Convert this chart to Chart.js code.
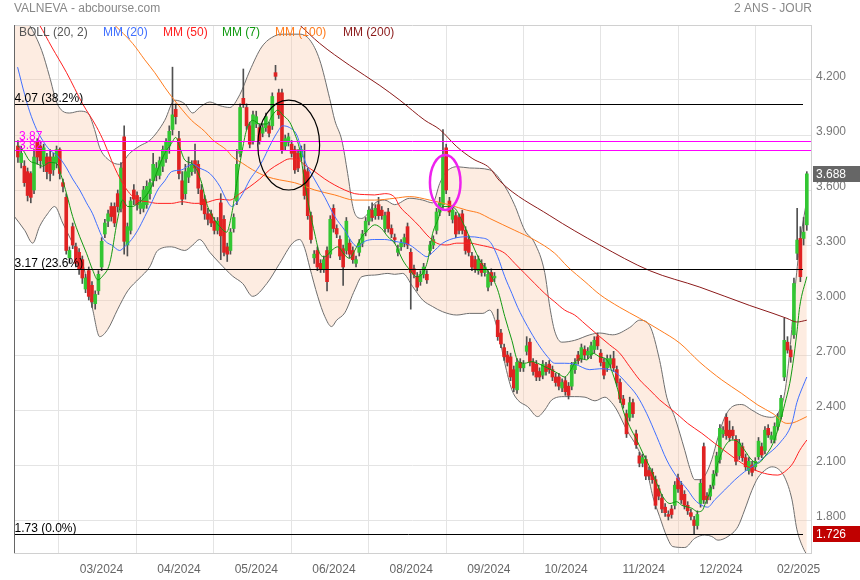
<!DOCTYPE html>
<html>
<head>
<meta charset="utf-8">
<title>VALNEVA - abcbourse.com</title>
<script src="https://cdn.jsdelivr.net/npm/chart.js@4.4.1/dist/chart.umd.min.js"></script>
<style>
  html, body { margin: 0; padding: 0; background: #fff; }
  canvas { display: block; }
</style>
</head>
<body>
<canvas id="chart" width="860" height="580"></canvas>
<script>
// daily candles, index 0 = first session shown
const opens = [3.84,3.75,3.73,3.70,3.69,3.60,3.86,3.84,3.74,3.78,3.78,3.71,3.75,3.82,3.64,3.56,3.23,3.40,3.29,3.26,
  3.22,3.06,3.16,3.08,2.98,3.05,3.18,3.36,3.43,3.51,3.51,3.58,3.50,3.89,3.30,3.38,3.60,3.57,3.50,3.50,
  3.52,3.58,3.65,3.68,3.68,3.73,3.77,3.84,3.93,4.04,3.88,3.65,3.58,3.67,3.70,3.76,3.74,3.60,3.55,3.47,
  3.47,3.43,3.38,3.53,3.44,3.29,3.27,3.39,3.54,3.80,4.10,4.05,3.95,3.87,3.96,3.94,3.91,3.94,3.95,3.95,
  4.24,4.13,4.13,3.84,3.86,3.85,3.82,3.80,3.78,3.71,3.70,3.46,3.23,3.27,3.20,3.17,3.27,3.25,3.50,3.39,
  3.33,3.28,3.27,3.31,3.27,3.20,3.26,3.31,3.37,3.43,3.49,3.46,3.52,3.49,3.39,3.48,3.39,3.34,3.26,
  3.29,3.31,3.40,3.26,3.17,3.13,3.10,3.14,3.14,3.27,3.30,3.38,3.48,3.52,3.83,3.54,3.44,3.46,
  3.45,3.47,3.38,3.33,3.24,3.22,3.16,3.20,3.15,3.07,3.15,3.12,2.89,2.82,2.74,2.70,2.69,2.62,2.51,2.66,
  2.63,2.72,2.77,2.66,2.65,2.61,2.59,2.64,2.65,2.62,2.58,2.58,2.52,2.56,2.53,2.53,2.62,2.70,2.68,2.73,2.70,2.70,2.73,
  2.80,2.71,2.66,2.63,2.65,2.68,2.62,2.55,2.46,2.38,2.36,2.44,2.27,2.15,2.11,2.13,2.07,2.06,2.02,1.97,
  1.92,1.87,1.83,1.86,1.88,2.03,1.99,1.94,1.88,1.84,1.80,1.77,1.89,2.20,1.93,1.93,1.99,2.06,2.13,2.27,
  2.36,2.29,2.29,2.24,2.15,2.20,2.14,2.07,2.10,2.09,2.145,2.20,2.18,2.30,2.24,2.236,2.31,2.364,2.58,2.77,
  2.727,2.81,3.255,3.336,3.336,3.41];
const highs = [3.87,3.84,3.76,3.72,3.70,3.82,3.88,3.86,3.85,3.80,3.82,3.80,3.84,3.83,3.66,3.58,3.29,3.42,3.31,3.28,
  3.24,3.14,3.18,3.10,3.05,3.16,3.34,3.44,3.49,3.53,3.53,3.60,3.75,3.95,3.42,3.56,3.63,3.59,3.56,3.62,
  3.65,3.66,3.80,3.75,3.78,3.84,3.88,3.95,4.27,4.07,3.92,3.70,3.74,3.78,3.76,3.85,3.76,3.63,3.57,3.50,
  3.49,3.45,3.45,3.58,3.46,3.31,3.39,3.47,3.82,4.07,4.26,4.07,3.97,4.03,4.03,3.96,3.96,4.02,3.97,4.13,
  4.28,4.15,4.15,3.90,3.91,3.87,3.84,3.82,3.84,3.85,3.72,3.48,3.27,3.29,3.22,3.24,3.29,3.46,3.52,3.41,
  3.35,3.30,3.45,3.33,3.29,3.24,3.33,3.38,3.45,3.51,3.53,3.52,3.56,3.51,3.48,3.50,3.41,3.36,3.30,
  3.33,3.36,3.42,3.28,3.19,3.15,3.16,3.20,3.16,3.32,3.35,3.50,3.56,3.93,3.85,3.56,3.51,3.48,
  3.47,3.49,3.40,3.35,3.26,3.24,3.24,3.22,3.20,3.16,3.17,3.15,2.95,2.84,2.76,2.72,2.71,2.64,2.68,2.68,
  2.67,2.80,2.79,2.68,2.67,2.63,2.67,2.66,2.67,2.64,2.60,2.60,2.57,2.58,2.55,2.66,2.68,2.72,2.76,2.75,2.74,2.77,2.80,
  2.82,2.73,2.68,2.70,2.70,2.72,2.64,2.57,2.48,2.40,2.47,2.46,2.29,2.17,2.16,2.15,2.09,2.08,2.04,1.99,
  1.94,1.89,1.85,1.88,2.01,2.05,2.01,1.96,1.90,1.86,1.82,1.85,2.02,2.22,1.95,1.99,2.07,2.17,2.32,2.31,
  2.38,2.34,2.31,2.26,2.24,2.22,2.16,2.14,2.12,2.14,2.25,2.22,2.31,2.32,2.28,2.33,2.38,2.48,2.90,2.80,
  2.75,3.12,3.50,3.40,3.45,3.70];
const lows = [3.75,3.72,3.62,3.54,3.53,3.58,3.74,3.72,3.70,3.66,3.65,3.68,3.72,3.66,3.59,3.25,3.20,3.28,3.18,3.14,
  3.09,3.04,3.00,2.96,2.95,3.03,3.16,3.34,3.40,3.43,3.40,3.48,3.48,3.25,3.24,3.36,3.52,3.49,3.47,3.48,
  3.50,3.55,3.62,3.65,3.66,3.70,3.75,3.80,3.90,3.96,3.66,3.52,3.55,3.64,3.68,3.69,3.58,3.49,3.44,3.41,
  3.40,3.36,3.36,3.22,3.24,3.21,3.25,3.37,3.52,3.78,4.05,3.93,3.83,3.85,3.94,3.85,3.89,3.92,3.89,3.93,
  4.20,3.99,3.80,3.82,3.84,3.78,3.69,3.70,3.76,3.55,3.44,3.31,3.20,3.16,3.15,3.15,3.05,3.23,3.37,3.34,
  3.22,3.08,3.25,3.23,3.20,3.18,3.24,3.29,3.35,3.41,3.43,3.44,3.44,3.44,3.37,3.37,3.34,3.31,3.24,
  3.27,3.29,3.28,2.95,3.12,3.05,3.08,3.12,3.09,3.25,3.28,3.36,3.46,3.50,3.58,3.46,3.42,3.34,
  3.36,3.36,3.25,3.24,3.16,3.15,3.14,3.13,3.13,3.05,3.08,3.10,2.78,2.74,2.67,2.64,2.56,2.50,2.49,2.61,
  2.61,2.70,2.64,2.59,2.56,2.56,2.57,2.59,2.60,2.56,2.53,2.51,2.50,2.48,2.46,2.51,2.60,2.65,2.66,2.68,2.68,2.68,2.71,
  2.73,2.64,2.57,2.61,2.63,2.61,2.53,2.44,2.41,2.25,2.34,2.36,2.19,2.09,2.09,2.02,2.02,2.00,1.86,1.91,
  1.84,1.82,1.80,1.81,1.86,1.95,1.89,1.86,1.83,1.80,1.726,1.75,1.87,1.89,1.89,1.91,1.97,2.04,2.11,2.25,
  2.24,2.23,2.24,2.10,2.13,2.12,2.07,2.05,2.04,2.07,2.13,2.14,2.16,2.25,2.22,2.22,2.29,2.35,2.56,2.71,
  2.66,2.79,3.22,3.10,3.30,3.38];
const closes = [3.78,3.80,3.64,3.57,3.56,3.78,3.78,3.76,3.83,3.70,3.69,3.78,3.82,3.69,3.62,3.27,3.27,3.30,3.20,3.17,
  3.12,3.12,3.02,2.99,3.03,3.14,3.32,3.42,3.47,3.455,3.42,3.51,3.72,3.32,3.40,3.54,3.55,3.52,3.53,3.60,
  3.62,3.64,3.74,3.72,3.76,3.82,3.86,3.92,4.01,4.00,3.69,3.55,3.70,3.72,3.74,3.72,3.61,3.52,3.47,3.44,
  3.42,3.38,3.43,3.35,3.26,3.25,3.37,3.45,3.74,4.05,4.07,3.95,3.85,4.01,4.00,3.87,3.94,4.00,3.91,4.11,
  4.22,4.01,3.82,3.88,3.89,3.80,3.71,3.72,3.82,3.57,3.46,3.33,3.25,3.18,3.17,3.22,3.10,3.44,3.39,3.36,
  3.24,3.18,3.43,3.25,3.22,3.22,3.31,3.36,3.43,3.49,3.45,3.50,3.46,3.46,3.46,3.39,3.36,3.33,3.28,
  3.31,3.34,3.30,3.15,3.14,3.07,3.14,3.18,3.11,3.30,3.33,3.48,3.53,3.78,3.60,3.48,3.49,3.36,
  3.38,3.38,3.27,3.26,3.18,3.17,3.22,3.15,3.18,3.14,3.10,3.13,2.80,2.76,2.69,2.66,2.58,2.52,2.66,2.63,
  2.65,2.75,2.66,2.61,2.58,2.58,2.65,2.61,2.62,2.58,2.55,2.53,2.55,2.50,2.48,2.645,2.66,2.67,2.74,2.70,2.72,2.75,2.78,
  2.75,2.66,2.59,2.68,2.68,2.63,2.55,2.46,2.43,2.27,2.44,2.38,2.21,2.11,2.14,2.04,2.04,2.02,1.88,1.93,
  1.86,1.84,1.82,1.83,1.99,1.97,1.91,1.88,1.85,1.82,1.77,1.83,2.00,1.91,1.91,1.97,2.05,2.15,2.30,2.29,
  2.26,2.25,2.26,2.12,2.22,2.14,2.09,2.12,2.06,2.12,2.23,2.155,2.29,2.264,2.26,2.31,2.364,2.464,2.78,2.727,
  2.69,3.09,3.327,3.127,3.37,3.688];

// indicator curves: [session index, value]
const mm7 = [[-0.1,3.84],[1.5,3.82],[3.6,3.76],[5.8,3.745],[7.7,3.73],[9.8,3.75],[12.0,3.745],[13.6,3.67],[15.1,3.58],[17.0,3.455],
  [19.2,3.345],[21.3,3.255],[23.2,3.164],[24.8,3.11],[26.3,3.13],[28.5,3.20],[30.9,3.436],[32.5,3.545],[34.1,3.51],[35.6,3.51],
  [37.2,3.527],[39.4,3.56],[41.5,3.62],[43.4,3.71],[45.6,3.80],[47.7,3.855],[49.0,3.887],[50.2,3.836],[51.8,3.764],[54.0,3.745],
  [55.5,3.71],[57.1,3.636],[58.6,3.527],[60.5,3.455],[62.7,3.40],[64.8,3.37],[66.4,3.47],[67.9,3.636],[69.5,3.80],[71.0,3.927],
  [72.9,3.98],[75.1,3.96],[77.3,3.96],[79.1,4.01],[80.7,4.036],[82.2,4.01],[84.4,3.97],[85.9,3.91],[87.5,3.82],[89.1,3.636],
  [90.6,3.49],[92.2,3.36],[93.7,3.255],[95.3,3.236],[97.4,3.27],[99.3,3.29],[101.5,3.245],[103.0,3.227],[104.6,3.27],[106.8,3.345],
  [108.6,3.38],[110.8,3.41],[112.9,3.39],[114.9,3.345],[117.0,3.31],[119.5,3.218],[121.7,3.164],[123.9,3.127],[125.7,3.145],[127.3,3.218],
  [128.8,3.364],[130.4,3.436],[131.9,3.51],[133.5,3.51],[135.7,3.50],[137.8,3.436],[139.7,3.364],[141.9,3.273],[144.0,3.20],[146.5,3.145],
  [149.0,3.055],[151.2,2.91],[153.4,2.78],[155.2,2.67],[157.4,2.655],[159.6,2.664],[161.4,2.655],[163.6,2.636],[165.8,2.618],[167.7,2.60],
  [169.8,2.58],[171.4,2.61],[172.9,2.655],[174.5,2.68],[176.7,2.673],[178.5,2.71],[180.7,2.69],[182.9,2.673],[184.7,2.60],[186.3,2.51],
  [187.9,2.40],[190.0,2.31],[192.2,2.236],[194.1,2.164],[196.2,2.09],[198.4,2.0],[200.3,1.927],[202.5,1.89],[204.6,1.90],[206.2,1.88],
  [209.3,1.864],[211.1,1.845],[212.4,1.85],[213.9,1.91],[215.5,1.98],[217.4,2.11],[219.5,2.20],[221.7,2.236],[223.6,2.227],[225.7,2.18],
  [227.9,2.127],[229.8,2.11],[231.9,2.145],[234.5,2.218],[236.6,2.327],[238.2,2.436],[239.7,2.545],[240.7,2.655],[241.9,2.82],[242.8,2.964],
  [245.0,3.127]];
const mm20 = [[-0.1,4.27],[2.1,4.12],[3.6,4.03],[5.8,3.93],[7.7,3.87],[9.8,3.82],[12.0,3.79],[13.6,3.76],[15.1,3.72],[17.0,3.66],
  [19.2,3.60],[21.3,3.53],[23.2,3.47],[24.8,3.40],[26.3,3.34],[27.9,3.31],[29.1,3.30],[31.6,3.27],[33.1,3.29],[35.3,3.33],
  [37.2,3.38],[39.4,3.455],[41.5,3.53],[43.4,3.60],[45.6,3.65],[47.7,3.70],[50.9,3.71],[52.7,3.73],[54.3,3.74],[56.4,3.72],
  [59.6,3.69],[62.7,3.62],[64.8,3.545],[66.4,3.51],[67.9,3.53],[69.8,3.58],[72.0,3.655],[74.2,3.71],[76.0,3.76],[78.2,3.84],
  [80.4,3.91],[82.2,3.95],[84.4,3.94],[86.6,3.90],[89.1,3.76],[92.2,3.655],[95.3,3.56],[98.4,3.455],[101.5,3.38],[104.0,3.31],
  [105.5,3.29],[107.7,3.32],[110.8,3.33],[113.9,3.33],[117.0,3.32],[121.7,3.30],[124.8,3.26],[127.0,3.236],[128.8,3.26],[131.9,3.31],
  [136.3,3.34],[140.3,3.345],[143.4,3.34],[146.5,3.32],[149.0,3.236],[151.2,3.127],[153.4,3.036],[155.2,2.96],[158.3,2.855],[161.4,2.764],
  [164.5,2.69],[166.7,2.655],[169.8,2.655],[172.9,2.65],[177.6,2.62],[180.7,2.625],[183.8,2.62],[186.0,2.60],[189.1,2.545],[192.2,2.48],
  [195.3,2.38],[198.4,2.255],[201.5,2.127],[204.6,2.036],[208.0,1.964],[210.2,1.91],[212.4,1.88],[214.2,1.87],[216.4,1.91],[219.5,1.964],
  [222.6,2.018],[225.7,2.064],[228.8,2.10],[231.9,2.145],[236.6,2.22],[240.4,2.33],[241.9,2.44],[243.8,2.53],[245.0,2.58]];
const mm50 = [[-1.3,4.75],[3.6,4.58],[6.7,4.50],[10.5,4.38],[15.1,4.24],[20.1,4.07],[24.4,3.945],[26.9,3.855],[29.1,3.76],[30.9,3.69],
  [33.1,3.62],[35.3,3.57],[37.2,3.545],[40.3,3.536],[43.4,3.527],[47.7,3.527],[50.9,3.536],[54.9,3.527],[58.0,3.53],[62.7,3.55],
  [65.8,3.545],[68.9,3.58],[72.0,3.618],[75.1,3.66],[78.2,3.71],[81.3,3.745],[84.4,3.77],[87.5,3.76],[89.1,3.736],[92.2,3.70],
  [95.3,3.66],[98.4,3.627],[101.5,3.60],[104.6,3.58],[107.7,3.575],[110.8,3.573],[113.9,3.58],[117.0,3.56],[118.6,3.51],[121.7,3.455],
  [124.8,3.40],[127.0,3.355],[130.1,3.31],[133.2,3.30],[136.3,3.31],[140.3,3.31],[143.4,3.30],[148.1,3.28],[151.2,3.255],[154.3,3.20],
  [157.4,3.145],[160.5,3.09],[163.6,3.036],[166.7,2.99],[169.8,2.945],[172.9,2.918],[176.1,2.87],[180.7,2.80],[183.8,2.755],[186.9,2.71],
  [190.0,2.636],[193.1,2.564],[196.2,2.51],[199.3,2.455],[202.5,2.41],[205.6,2.364],[208.0,2.327],[212.4,2.273],[216.4,2.218],[220.5,2.164],
  [224.8,2.11],[228.8,2.073],[232.9,2.05],[236.0,2.045],[238.8,2.073],[240.7,2.11],[242.8,2.18],[245.0,2.236]];
const mm100 = [[25.4,4.58],[30.0,4.50],[35.6,4.40],[39.4,4.31],[42.5,4.24],[45.6,4.16],[47.7,4.11],[50.9,4.04],[53.9,3.98],[58.0,3.92],
  [60.5,3.873],[64.8,3.818],[66.7,3.78],[69.8,3.745],[72.9,3.71],[77.3,3.673],[81.3,3.655],[85.9,3.64],[92.2,3.60],[98.4,3.573],
  [104.6,3.545],[110.8,3.545],[117.0,3.555],[121.7,3.564],[127.9,3.545],[134.1,3.518],[139.4,3.49],[143.4,3.473],[146.5,3.445],[154.3,3.38],
  [160.5,3.327],[166.7,3.255],[170.8,3.18],[176.1,3.10],[180.7,3.03],[186.9,2.96],[193.1,2.90],[199.3,2.836],[205.6,2.764],[211.8,2.66],
  [218.6,2.564],[224.8,2.49],[229.8,2.427],[234.5,2.38],[238.8,2.327],[240.7,2.33],[242.8,2.345],[245.0,2.364]];
const mm200 = [[84.4,4.55],[87.5,4.50],[93.7,4.40],[103.0,4.28],[112.4,4.17],[118.6,4.09],[126.4,3.98],[131.0,3.93],[136.3,3.836],[141.3,3.77],
  [146.5,3.72],[149.6,3.65],[165.2,3.46],[180.7,3.30],[196.2,3.16],[211.8,3.07],[227.3,2.97],[234.5,2.927],[238.8,2.90],[241.9,2.88],
  [245.0,2.89]];
const bollUp = [[-1.3,4.62],[3.6,4.50],[7.4,4.36],[9.8,4.22],[12.0,4.08],[13.9,4.03],[16.1,4.02],[19.2,4.03],[21.7,4.02],[23.8,3.93],
  [25.4,3.83],[28.5,3.76],[31.6,3.74],[34.7,3.80],[37.8,3.84],[40.9,3.87],[43.4,3.92],[45.6,3.98],[48.7,4.09],[51.8,4.07],
  [54.3,4.02],[56.4,4.05],[59.6,4.08],[62.7,4.06],[65.8,4.05],[68.9,4.12],[72.0,4.25],[75.7,4.38],[79.7,4.44],[82.8,4.45],
  [87.5,4.45],[90.6,4.42],[93.7,4.31],[96.8,4.10],[98.4,3.98],[100.6,3.87],[102.4,3.69],[104.0,3.51],[105.2,3.455],[106.8,3.445],
  [108.6,3.47],[110.8,3.527],[113.9,3.545],[117.0,3.52],[121.7,3.555],[125.7,3.545],[128.8,3.53],[131.0,3.636],[132.6,3.69],[136.3,3.727],
  [140.3,3.72],[146.5,3.71],[151.2,3.62],[154.2,3.52],[157.4,3.38],[160.5,3.31],[163.6,3.15],[165.2,2.96],[166.7,2.83],[168.9,2.77],
  [172.9,2.78],[177.6,2.81],[180.7,2.82],[184.7,2.81],[190.0,2.85],[193.1,2.89],[196.2,2.86],[199.3,2.67],[201.5,2.47],[204.0,2.36],
  [207.1,2.18],[208.7,2.08],[210.2,2.02],[211.8,2.02],[213.3,2.04],[215.5,2.13],[217.4,2.25],[219.5,2.36],[222.0,2.42],[224.8,2.43],
  [227.9,2.40],[231.0,2.37],[234.1,2.36],[236.6,2.40],[238.2,2.50],[239.7,2.72],[241.3,3.05],[242.8,3.30],[245.0,3.55]];
const bollLow = [[-1.3,3.46],[2.1,3.38],[4.6,3.31],[6.7,3.40],[9.2,3.47],[11.4,3.51],[13.9,3.42],[17.0,3.31],[20.1,3.20],[23.2,2.95],
  [25.4,2.80],[27.9,2.84],[31.0,2.95],[34.1,3.05],[37.8,3.12],[40.9,3.18],[43.4,3.27],[47.7,3.29],[51.8,3.27],[54.3,3.30],
  [56.4,3.33],[59.6,3.26],[62.7,3.20],[66.7,3.13],[69.8,3.09],[72.9,3.02],[77.3,3.09],[81.3,3.20],[85.3,3.31],[87.5,3.33],
  [89.1,3.28],[90.6,3.18],[93.1,3.02],[95.3,2.91],[97.4,2.855],[99.0,2.89],[101.5,2.93],[104.6,3.055],[106.8,3.127],[110.8,3.136],
  [114.9,3.145],[117.0,3.14],[119.5,3.145],[122.6,3.073],[125.7,3.0],[128.8,2.964],[131.9,2.936],[136.3,2.918],[140.3,2.927],[144.4,2.927],
  [146.5,2.945],[149.0,2.836],[151.2,2.655],[153.4,2.51],[155.2,2.455],[158.3,2.418],[161.4,2.364],[163.6,2.40],[165.8,2.455],[169.8,2.473],
  [172.9,2.473],[176.1,2.47],[179.2,2.45],[182.3,2.47],[184.4,2.44],[186.0,2.40],[189.1,2.29],[192.2,2.20],[195.3,2.073],[197.2,1.927],
  [199.3,1.818],[201.5,1.71],[203.4,1.655],[207.1,1.65],[210.2,1.70],[213.3,1.718],[215.5,1.71],[217.4,1.69],[220.5,1.71],[223.6,1.764],
  [225.7,1.855],[227.9,1.96],[229.8,2.03],[231.9,2.07],[234.1,2.09],[236.0,2.08],[238.2,2.03],[240.4,1.91],[241.9,1.75],[243.8,1.65],
  [245.0,1.61]];

// axes
const tickIdx = [24.7, 48.8, 72.8, 96.9, 120.9, 145.0, 169.0, 193.1, 217.1, 241.2];
const tickLabels = ['03/2024', '04/2024', '05/2024', '06/2024', '08/2024', '09/2024', '10/2024', '11/2024', '12/2024', '02/2025'];
const yTicks = [1.8, 2.1, 2.4, 2.7, 3.0, 3.3, 3.6, 3.9, 4.2];

// retracements and drawn levels
const fibLevels = [4.07, 3.17, 1.726];
const fibTexts = ['4.07 (38.2%)', '3.17 (23.6%)', '1.73 (0.0%)'];
const pinkLevels = [3.87, 3.82];
const pinkTexts = ['3.87', '3.82'];
// hand drawn ellipses: centre (session, price) and radii
const ellipses = [
    { x: 84.1, y: 3.845, rx: 9.6, ry: 0.245, color: '#000000', width: 1.2 },
    { x: 132.7, y: 3.641, rx: 4.75, ry: 0.15, color: '#ee22ee', width: 2.5 }
];

const FONT = 'Arial, "Liberation Sans", sans-serif';
const GREEN = '#33c633';
const RED = '#e02222';

const toXY = pts => pts.map(([x, y]) => ({ x, y }));
const idx = closes.map((_, i) => i);

const lineSet = (label, data, color, order) => ({
    type: 'line',
    label,
    data: toXY(data),
    borderColor: color,
    borderWidth: 1,
    pointRadius: 0,
    fill: false,
    cubicInterpolationMode: 'monotone',
    order
});

const decor = {
    id: 'decor',
    afterDatasetsDraw(chart) {
        const { ctx, chartArea: a, scales: { x, y } } = chart;
        ctx.save();
        ctx.beginPath();
        ctx.rect(a.left, a.top, a.right - a.left, a.bottom - a.top);
        ctx.clip();

        ctx.lineWidth = 1;
        ctx.strokeStyle = '#000';
        fibLevels.forEach(v => {
            const py = Math.round(y.getPixelForValue(v)) + 0.5;
            ctx.beginPath();
            ctx.moveTo(a.left, py);
            ctx.lineTo(a.right - 8, py);
            ctx.stroke();
        });
        ctx.strokeStyle = '#ff00ff';
        pinkLevels.forEach(v => {
            const py = Math.round(y.getPixelForValue(v)) + 0.5;
            ctx.beginPath();
            ctx.moveTo(a.left, py);
            ctx.lineTo(a.right, py);
            ctx.stroke();
        });

        ellipses.forEach(e => {
            const cx = x.getPixelForValue(e.x);
            const cy = y.getPixelForValue(e.y);
            const rx = Math.abs(x.getPixelForValue(e.x + e.rx) - cx);
            const ry = Math.abs(y.getPixelForValue(e.y + e.ry) - cy);
            ctx.strokeStyle = e.color;
            ctx.lineWidth = e.width;
            ctx.beginPath();
            ctx.ellipse(cx, cy, rx, ry, 0, 0, Math.PI * 2);
            ctx.stroke();
        });

        ctx.font = '12px ' + FONT;
        ctx.textBaseline = 'alphabetic';
        ctx.textAlign = 'left';
        ctx.fillStyle = '#000';
        fibLevels.forEach((v, k) => {
            ctx.fillText(fibTexts[k], a.left + 0.5, y.getPixelForValue(v) - 2);
        });
        ctx.fillStyle = '#ff00ff';
        pinkLevels.forEach((v, k) => {
            ctx.fillText(pinkTexts[k], a.left + 5, y.getPixelForValue(v) - 1);
        });
        ctx.restore();
    },
    afterDraw(chart) {
        const { ctx, chartArea: a, scales: { y } } = chart;
        ctx.save();

        // frame
        ctx.lineWidth = 1;
        ctx.strokeStyle = '#d0d0d0';
        ctx.beginPath();
        ctx.moveTo(a.left, a.top + 0.5);
        ctx.lineTo(a.right, a.top + 0.5);
        ctx.stroke();
        ctx.strokeStyle = '#666';
        ctx.beginPath();
        ctx.moveTo(a.left + 0.5, a.top);
        ctx.lineTo(a.left + 0.5, a.bottom);
        ctx.stroke();

        // header
        ctx.font = '12px ' + FONT;
        ctx.fillStyle = '#888';
        ctx.textBaseline = 'middle';
        ctx.textAlign = 'left';
        ctx.fillText('VALNEVA - abcbourse.com', 14, 9);
        ctx.textAlign = 'right';
        ctx.fillText('2 ANS - JOUR', 812, 9);

        // legend inside the plot
        const items = [
            ['BOLL (20, 2)', '#555555', 19],
            ['MM (20)', '#3f6fff', 103],
            ['MM (50)', '#ff2020', 163],
            ['MM (7)', '#119911', 222],
            ['MM (100)', '#ff7b1c', 275],
            ['MM (200)', '#8b1a1a', 343]
        ];
        ctx.textAlign = 'left';
        items.forEach(([t, c, px]) => {
            ctx.fillStyle = c;
            ctx.fillText(t, px, 33);
        });

        // price badges
        const badge = (v, bg) => {
            const py = Math.round(y.getPixelForValue(v));
            ctx.fillStyle = bg;
            ctx.fillRect(a.right + 2, py - 8, 860 - a.right - 2, 16);
            ctx.fillStyle = '#fff';
            ctx.textAlign = 'left';
            ctx.fillText(v.toFixed(3), a.right + 5, py + 0.5);
        };
        badge(closes[closes.length - 1], '#666666');
        badge(Math.min(...lows), '#c00000');
        ctx.restore();
    }
};

new Chart(document.getElementById('chart'), {
    type: 'bar',
    data: {
        datasets: [
            {
                type: 'line',
                label: 'BOLL haut',
                data: toXY(bollUp),
                borderColor: '#6e6e6e',
                borderWidth: 1,
                pointRadius: 0,
                fill: '+1',
                backgroundColor: 'rgba(250, 196, 165, 0.33)',
                cubicInterpolationMode: 'monotone',
                order: 30
            },
            {
                type: 'line',
                label: 'BOLL bas',
                data: toXY(bollLow),
                borderColor: '#6e6e6e',
                borderWidth: 1,
                pointRadius: 0,
                fill: false,
                cubicInterpolationMode: 'monotone',
                order: 29
            },
            {
                type: 'bar',
                label: 'mèches',
                data: idx.map(i => ({ x: i, y: [lows[i], highs[i]] })),
                backgroundColor: '#505050',
                barThickness: 1,
                grouped: false,
                order: 20
            },
            {
                type: 'bar',
                label: 'corps',
                data: idx.map(i => ({ x: i, y: [Math.min(opens[i], closes[i]), Math.max(opens[i], closes[i])] })),
                backgroundColor: idx.map(i => closes[i] >= opens[i] ? GREEN : RED),
                barThickness: 3,
                grouped: false,
                order: 19
            },
            lineSet('MM (200)', mm200, '#8b1a1a', 6),
            lineSet('MM (100)', mm100, '#ff7b1c', 5),
            lineSet('MM (50)', mm50, '#ff2020', 4),
            lineSet('MM (20)', mm20, '#3f6fff', 3),
            lineSet('MM (7)', mm7, '#119911', 2)
        ]
    },
    options: {
        responsive: false,
        animation: false,
        devicePixelRatio: 1,
        events: [],
        layout: { padding: { left: 14, top: 25, right: 0, bottom: 0 } },
        plugins: {
            legend: { display: false },
            tooltip: { enabled: false }
        },
        scales: {
            x: {
                type: 'linear',
                position: 'bottom',
                min: -1.22,
                max: 246.3,
                offset: false,
                grid: { color: '#e4e4e4', drawTicks: false },
                border: { color: '#d0d0d0' },
                afterBuildTicks: s => { s.ticks = tickIdx.map(v => ({ value: v })); },
                afterFit: s => { s.height = 27; },
                ticks: {
                    autoSkip: false,
                    maxRotation: 0,
                    padding: 9,
                    labelOffset: 4,
                    color: '#666',
                    font: { family: FONT, size: 12 },
                    callback: (v, k) => tickLabels[k]
                }
            },
            y: {
                type: 'linear',
                position: 'right',
                min: 1.62,
                max: 4.50,
                grid: { color: '#e4e4e4', drawTicks: false },
                border: { color: '#d0d0d0' },
                afterBuildTicks: s => { s.ticks = yTicks.map(v => ({ value: v })); },
                afterFit: s => { s.width = 49; },
                ticks: {
                    padding: 5,
                    labelOffset: -3,
                    color: '#777',
                    font: { family: FONT, size: 12 },
                    callback: v => Number(v).toFixed(3)
                }
            }
        }
    },
    plugins: [decor]
});
</script>
</body>
</html>
